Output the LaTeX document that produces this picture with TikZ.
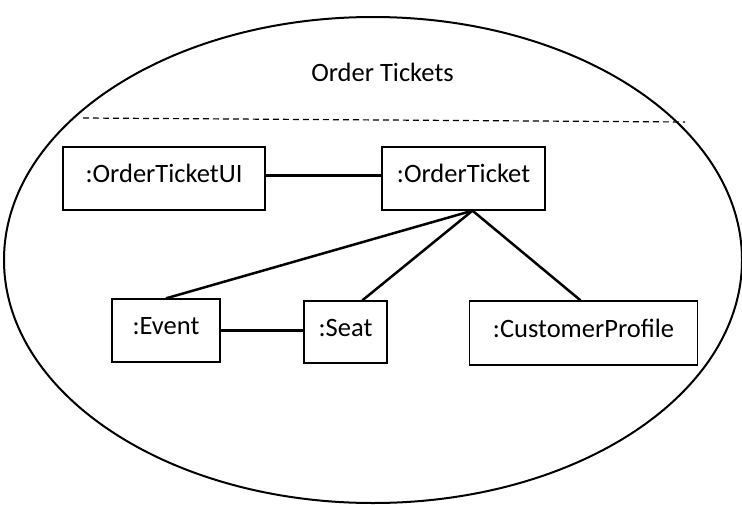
\documentclass[tikz,border=0pt]{standalone}
\usepackage{fontspec}
\setmainfont{Carlito}
\usetikzlibrary{calc}
\begin{document}
\begin{tikzpicture}[x=1pt,y=-1pt,
  obj/.style={draw, line width=1.3pt, inner sep=0pt, text height=18pt, text depth=10pt, font=\fontsize{26.5}{32}\selectfont},
  link/.style={line width=2.5pt}]
\useasboundingbox (0,0) rectangle (742,504);
\draw[line width=2pt] (373,260) ellipse [x radius=369, y radius=243];
\node[font=\fontsize{26.5}{32}\selectfont, anchor=base, inner sep=0pt] (title) at (382.5,81) {Order Tickets};
\draw[dashed, line width=1.2pt, dash pattern=on 6pt off 4pt] (83,118) -- (685,122);
\node[obj, minimum width=202, minimum height=63] (ui) at (164,178.5) {:OrderTicketUI};
\node[obj, minimum width=163, minimum height=63] (ot) at (463.5,178.5) {:OrderTicket};
\node[obj, minimum width=108, minimum height=63] (ev) at (166,330.5) {:Event};
\node[obj, minimum width=83, minimum height=62] (seat) at (345.5,332) {:Seat};
\node[obj, minimum width=228, minimum height=64] (cp) at (583.5,333) {:CustomerProfile};
\coordinate (hub) at ($(ot.south)+(9,0)$);
\draw[link] ([yshift=3pt]ui.east) -- ([yshift=3pt]ot.west);
\draw[link] (ev.east) -- (ev.east -| seat.west);
\draw[link] (hub) -- (ev.north);
\draw[link] (hub) -- ($(seat.north west)!0.7!(seat.north east)$);
\draw[link] (hub) -- ($(cp.north)+(-3,0)$);
\end{tikzpicture}
\end{document}
